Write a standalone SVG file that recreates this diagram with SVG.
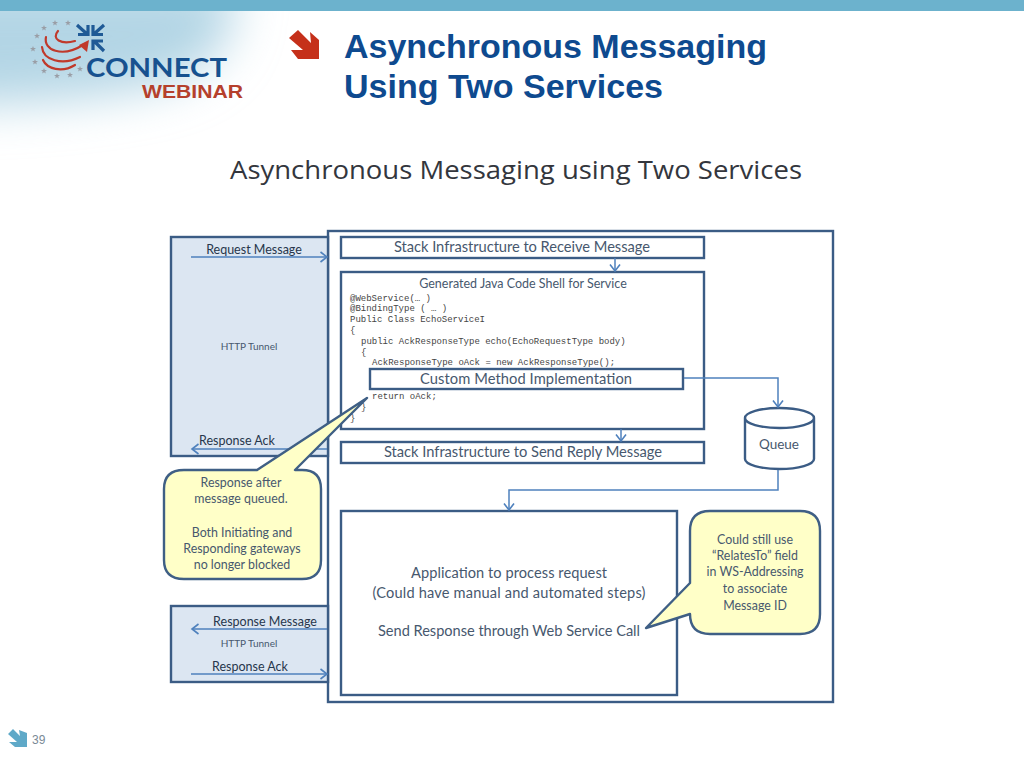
<svg xmlns="http://www.w3.org/2000/svg" width="1024" height="768" viewBox="0 0 1024 768">
<style>
.box{fill:#fff;stroke:#3b5c85;stroke-width:2.4}
.blue{fill:#dce6f2;stroke:#3b5c85;stroke-width:2.4}
.call{fill:#ffffc8;stroke:#3f5f85;stroke-width:2.4;stroke-linejoin:round}
.c{fill:none;stroke:#4f81bd;stroke-width:1.5}
.t{font-family:Lato,"Open Sans",sans-serif;font-size:13.5px;fill:#47586e;text-anchor:middle}
.d{fill:#27364c;font-size:12.5px}
.s{font-size:10px}
.h{font-size:14.7px}
.a{font-size:14.6px}
.n{font-size:12.4px}
.code{font-family:"Liberation Mono",monospace;font-size:9px;fill:#454545}
.star{fill:#9a9ea6}
.red{fill:none;stroke:#c0392b;stroke-width:2.2;stroke-linecap:round}
</style>
<defs>
<marker id="a" markerWidth="12" markerHeight="12" refX="9.5" refY="6" orient="auto" markerUnits="userSpaceOnUse"><path d="M3 1L9.5 6L3 11" fill="none" stroke="#4f81bd" stroke-width="1.6"/></marker>
<filter id="soft" x="-50%" y="-50%" width="200%" height="200%"><feGaussianBlur stdDeviation="24"/></filter>
<path id="st" d="M0 -3L.8 -1H3L1.2 .4L1.9 2.6L0 1.3L-1.9 2.6L-1.2 .4L-3 -1H-.8Z"/>
</defs>
<rect width="1024" height="768" fill="#fff"/>
<path id="wash" d="M-60 -20H232Q246 60 160 84Q70 105 -60 104Z" fill="#b3d5e5" filter="url(#soft)"/>
<rect width="1024" height="11" fill="#6cb2cd"/>
<g id="logo">
<g class="star"><use href="#st" x="55" y="23"/><use href="#st" x="68" y="23"/><use href="#st" x="44" y="28"/><use href="#st" x="37" y="36"/><use href="#st" x="33" y="49"/><use href="#st" x="35" y="62"/><use href="#st" x="44" y="71"/><use href="#st" x="57" y="76"/><use href="#st" x="70" y="75"/><use href="#st" x="80" y="69"/></g>
<path class="red" d="M58 31C51 39 61 45 75 41"/>
<path class="red" d="M46 37C43 50 62 58 83 45"/>
<path class="red" d="M42 47C43 60 62 66 80 57"/>
<path class="red" d="M43 60C47 69 62 73 75 65"/>
<path d="M79 45L89 40L87 52Z" fill="#c0392b"/>
<g fill="none" stroke="#1f5a96" stroke-width="3.2"><path d="M77 25L87 34M88 25V34.500H78M104 25L94 34M93 25V34.500H103M104 51L94 41M93 50V41H103"/></g>
<text x="86" y="77" font-family="Lato,sans-serif" font-weight="700" font-size="27" fill="#17518f" textLength="141" lengthAdjust="spacingAndGlyphs">CONNECT</text>
<text x="142" y="98" font-family="'Liberation Sans',sans-serif" font-weight="700" font-size="17.500" fill="#b5402c" textLength="101" lengthAdjust="spacingAndGlyphs">WEBINAR</text>
</g>
<path id="title-arrow" d="M298 30L311 43L310 32L319 40V59H298L291 50H303L289 38Z" fill="#c5301a"/>
<g id="title" font-family="'Liberation Sans',sans-serif" font-weight="700" font-size="33" fill="#0e4a8f">
<text x="344" y="58" textLength="423" lengthAdjust="spacingAndGlyphs">Asynchronous Messaging</text>
<text x="344" y="98" textLength="319" lengthAdjust="spacingAndGlyphs">Using Two Services</text>
</g>
<text id="subtitle" x="230" y="179" font-family="'Open Sans',Lato,sans-serif" font-size="26" fill="#33363d" textLength="572" lengthAdjust="spacingAndGlyphs">Asynchronous Messaging using Two Services</text>
<g id="outer"><rect class="box" x="328" y="231" width="505" height="471"/></g>
<g id="tunnel-top"><rect class="blue" x="171" y="237" width="157" height="219"/><text class="t d" x="254" y="254">Request Message</text><text class="t s" x="249" y="350">HTTP Tunnel</text><text class="t d" x="237" y="445">Response Ack</text></g>
<g id="tunnel-bottom"><rect class="blue" x="171" y="606" width="157" height="76"/><text class="t d" x="265" y="626">Response Message</text><text class="t s" x="249" y="647">HTTP Tunnel</text><text class="t d" x="250" y="671">Response Ack</text></g>
<g id="receive"><rect class="box" x="341" y="237" width="363" height="21"/><text class="t h" x="522" y="252" textLength="256">Stack Infrastructure to Receive Message</text></g>
<g id="shell"><rect class="box" x="341" y="272" width="363" height="157"/><text class="t" x="523" y="288" style="font-size:12.5px">Generated Java Code Shell for Service</text>
<g class="code">
<text x="350" y="301">@WebService(… )</text>
<text x="350" y="311">@BindingType ( … )</text>
<text x="350" y="322">Public Class EchoServiceI</text>
<text x="350" y="333">{</text>
<text x="361" y="344">public AckResponseType echo(EchoRequestType body)</text>
<text x="361" y="355">{</text>
<text x="372" y="365">AckResponseType oAck = new AckResponseType();</text>
<text x="372" y="399">return oAck;</text>
<text x="361" y="410">}</text>
<text x="350" y="421">}</text>
</g></g>
<g id="custom"><rect class="box" x="370" y="369" width="313" height="20"/><text class="t h" x="526" y="384" textLength="212">Custom Method Implementation</text></g>
<g id="reply"><rect class="box" x="341" y="442" width="363" height="21"/><text class="t h" x="523" y="457" textLength="278">Stack Infrastructure to Send Reply Message</text></g>
<g id="queue"><path class="box" d="M745 418V459A34.500 10 0 0 0 814 459V418A34.500 10 0 0 0 745 418A34.500 10 0 0 0 814 418"/><text class="t" x="779" y="449">Queue</text></g>
<g id="app"><rect class="box" x="341" y="511" width="336" height="184"/>
<text class="t a" x="509" y="578" textLength="196">Application to process request</text>
<text class="t a" x="509" y="598" textLength="273">(Could have manual and automated steps)</text>
<text class="t a" x="509" y="636" textLength="262">Send Response through Web Service Call</text></g>
<g id="connectors">
<path class="c" d="M191 257H327" marker-end="url(#a)"/>
<path class="c" d="M327 449H192" marker-end="url(#a)"/>
<path class="c" d="M327 629H192" marker-end="url(#a)"/>
<path class="c" d="M191 674H327" marker-end="url(#a)"/>
<path class="c" d="M615 258V271" marker-end="url(#a)"/>
<path class="c" d="M621 429V441" marker-end="url(#a)"/>
<path class="c" d="M684 378H778V407" marker-end="url(#a)"/>
<path class="c" d="M778 470V490H509V510" marker-end="url(#a)"/>
</g>
<g id="callout-left"><path class="call" d="M184 470H257L367 398L295 470H302Q321 470 321 489V560Q321 579 302 579H184Q164 579 164 560V489Q164 470 184 470Z"/>
<g class="t n"><text x="241" y="487">Response after</text><text x="241" y="503">message queued.</text><text x="242" y="537">Both Initiating and</text><text x="242" y="553">Responding gateways</text><text x="242" y="569">no longer blocked</text></g></g>
<g id="callout-right"><path class="call" d="M710 511H800Q820 511 820 531V614Q820 634 800 634H710Q690 634 690 614L646 628L690 583V531Q690 511 710 511Z"/>
<g class="t n"><text x="755" y="544">Could still use</text><text x="755" y="560">“RelatesTo” field</text><text x="755" y="576">in WS-Addressing</text><text x="755" y="593">to associate</text><text x="755" y="610">Message ID</text></g></g>
<g id="footer"><path d="M13 729L20 736L19 730L27 733V747H15L9 742H17L8 734Z" fill="#5fa9c8"/><text x="32" y="744" font-family="'Liberation Sans',sans-serif" font-size="12" fill="#7a8a96">39</text></g>
</svg>
